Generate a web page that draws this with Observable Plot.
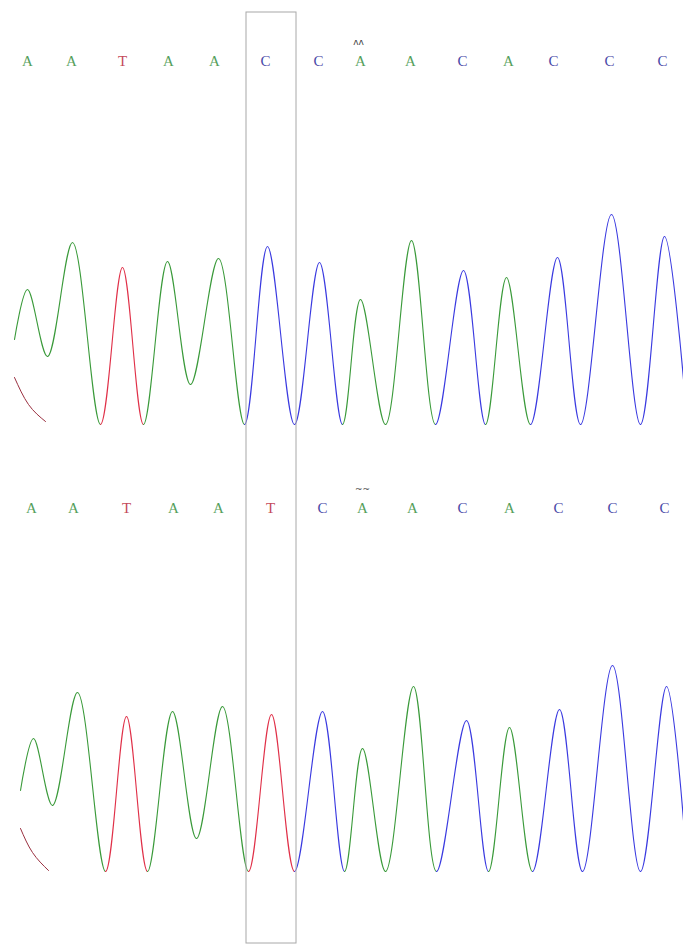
<!DOCTYPE html>
<html>
<head>
<meta charset="utf-8">
<script src="https://cdn.jsdelivr.net/npm/d3@7"></script>
<script src="https://cdn.jsdelivr.net/npm/@observablehq/plot@0.6"></script>
<style>
  html, body { margin: 0; padding: 0; background: #ffffff; }
  #chart svg { display: block; }
</style>
</head>
<body>
<div id="chart"></div>
<script>
// ---- Data ----
const panels = ["reference", "sample"];

// Base calls (letters) and their scan positions
const callsTop = ["A","A","T","A","A","C","C","A","A","C","A","C","C","C"];
const callsBottom = ["A","A","T","A","A","T","C","A","A","C","A","C","C","C"];
const callPosTop = [27, 71, 122, 168, 214, 265, 318, 360, 410, 462, 508, 553, 609, 662];
const callPosBottom = [31, 73, 126, 173, 218, 270, 322, 362, 412, 462, 509, 558, 612, 664];

// Peaks of the dominant trace (scan position, signal intensity)
const peakXTop = [27, 72, 122, 167, 218, 267, 319, 360, 411, 463, 506, 557, 611, 664];
const peakYTop = [135, 182, 157, 163, 166, 178, 162, 125, 184, 154, 147, 167, 210, 188];
const peakXBottom = [33, 77, 126, 172, 222, 271, 322, 362, 413, 466, 509, 559, 612, 666];
const peakYBottom = [133, 179, 155, 160, 165, 157, 160, 123, 185, 151, 144, 162, 206, 185];

// Troughs around the peaks (first = trace start, last = trace end)
const troughXTop = [14, 47, 100, 143, 190, 244, 294, 342, 385, 435, 485, 530, 580, 640, 683];
const troughYTop = [85, 68, 0, 0, 40, 0, 0, 0, 0, 0, 0, 0, 0, 0, 45];
const troughXBottom = [20, 52, 105, 147, 196, 248, 294, 344, 385, 436, 488, 532, 582, 640, 683];
const troughYBottom = [81, 66, 0, 0, 33, 0, 0, 0, 0, 0, 0, 0, 0, 0, 51];

// Faint secondary (T) signal at the start of each read
const tailXTop = [14, 28, 45];
const tailYTop = [47, 20, 3];
const tailXBottom = [20, 32, 48];
const tailYBottom = [43, 19, 1];

// Highlighted position (box) and quality marks above the 8th call
const boxX = [246, 296];
const markPos = [358, 362];
const markGlyph = ["ʌʌ", "~~"];

const baseColor = {A: "#3a9a3a", T: "#e03048", C: "#3a3ae0"};
const letterColor = {A: "#56a05c", T: "#c44a5a", C: "#4a4aa8"};

// ---- Build tables ----
// Each coloured segment runs trough -> peak -> trough; the neighbouring
// peaks are passed as control points to an "open" Catmull-Rom curve so the
// trace stays smooth across colour changes.
function segments(panel, calls, px, py, tx, ty) {
  const rows = [];
  const n = calls.length;
  calls.forEach((b, i) => {
    const seg = panel + i;
    const prev = i > 0 ? {x: px[i - 1], y: py[i - 1]} : {x: tx[0], y: ty[0]};
    const next = i < n - 1 ? {x: px[i + 1], y: py[i + 1]} : {x: tx[n], y: ty[n]};
    [prev, {x: tx[i], y: ty[i]}, {x: px[i], y: py[i]}, {x: tx[i + 1], y: ty[i + 1]}, next]
      .forEach(p => rows.push({panel, seg, base: b, x: p.x, y: p.y}));
  });
  return rows;
}
const traceRows = [
  ...segments(panels[0], callsTop, peakXTop, peakYTop, troughXTop, troughYTop),
  ...segments(panels[1], callsBottom, peakXBottom, peakYBottom, troughXBottom, troughYBottom)
];
const tailRows = [
  ...tailXTop.map((x, i) => ({panel: panels[0], x, y: tailYTop[i]})),
  ...tailXBottom.map((x, i) => ({panel: panels[1], x, y: tailYBottom[i]}))
];
const letterRows = [
  ...callsTop.map((b, i) => ({panel: panels[0], base: b, x: callPosTop[i]})),
  ...callsBottom.map((b, i) => ({panel: panels[1], base: b, x: callPosBottom[i]}))
];
const markRows = panels.map((p, i) => ({panel: p, x: markPos[i], glyph: markGlyph[i]}));

const chart = Plot.plot({
  width: 683,
  height: 945,
  marginTop: 25,
  marginBottom: 26,
  marginLeft: 0,
  marginRight: 0,
  x: {domain: [0, 683], axis: null},
  y: {domain: [-48, 399], axis: null},
  fy: {domain: panels, padding: 0, axis: null},
  style: {background: "#ffffff"},
  marks: [
    Plot.line(traceRows, {
      x: "x", y: "y", z: "seg", fy: "panel",
      stroke: d => baseColor[d.base],
      strokeWidth: 1.1,
      curve: "catmull-rom-open"
    }),
    Plot.line(tailRows, {
      x: "x", y: "y", fy: "panel", z: "panel",
      stroke: "#9a3040", strokeWidth: 1, curve: "natural"
    }),
    Plot.text(letterRows, {
      x: "x", y: () => 363, fy: "panel",
      text: "base",
      fill: d => letterColor[d.base],
      fontFamily: "Liberation Serif, DejaVu Serif, serif",
      fontSize: 15
    }),
    Plot.text(markRows, {
      x: "x", y: () => 382, fy: "panel",
      text: "glyph",
      fill: "#444444",
      fontFamily: "DejaVu Sans, sans-serif",
      fontSize: 9
    }),
    Plot.rect([{panel: panels[0]}], {
      x1: () => boxX[0], x2: () => boxX[1],
      y1: () => -519, y2: () => 412,
      fy: "panel",
      fill: "none", stroke: "#a8a8a8", strokeWidth: 1
    })
  ]
});
document.getElementById("chart").appendChild(chart);
</script>
</body>
</html>
